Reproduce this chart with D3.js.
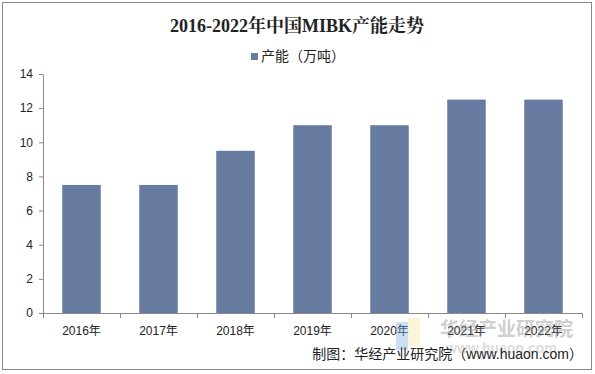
<!DOCTYPE html>
<meta charset="utf-8">
<style>
body { margin: 0; background: #fff; }
text { font-family: "Liberation Sans", Arial, "Noto Sans CJK SC", sans-serif; fill: #222; }
.title { font-family: "Liberation Serif", "Noto Serif CJK SC", "Noto Sans CJK SC", serif; font-size: 18px; font-weight: bold; }
.axis text { font-size: 12px; fill: #222; }
.axis path, .axis line { stroke: #888; }
</style>
<body>
<script src="https://cdnjs.cloudflare.com/ajax/libs/d3/7.8.5/d3.min.js"></script>
<script>

var years = ["2016年", "2017年", "2018年", "2019年", "2020年", "2021年", "2022年"];
var capacity = [7.5, 7.5, 9.5, 11, 11, 12.5, 12.5];
var yTicks = [0, 2, 4, 6, 8, 10, 12, 14];

var width = 595,
    height = 374;

var svg = d3.select("body").append("svg")
    .attr("width", width)
    .attr("height", height);

// frame
svg.append("rect")
    .attr("x", 2.5).attr("y", 2.5)
    .attr("width", 589).attr("height", 367)
    .attr("fill", "#fff")
    .attr("stroke", "#8a8a8a");

svg.append("text")
    .attr("class", "title")
    .attr("x", 297).attr("y", 32)
    .attr("text-anchor", "middle")
    .text("2016-2022年中国MIBK产能走势");

// legend
var legend = svg.append("g").attr("transform", "translate(251,61)");
legend.append("rect")
    .attr("x", 0).attr("y", -8)
    .attr("width", 7).attr("height", 7)
    .attr("fill", "#677ba1");
legend.append("text")
    .attr("x", 10).attr("y", 0)
    .style("font-size", "14px")
    .text("产能（万吨）");

var x = d3.scaleBand()
    .domain(years)
    .range([43, 582])
    .paddingInner(0.5)
    .paddingOuter(0.25);

var y = d3.scaleLinear()
    .domain([0, 14])
    .range([313, 74]);

var g = svg.append("g");

g.selectAll("rect.bar")
    .data(capacity)
  .enter().append("rect")
    .attr("class", "bar")
    .attr("x", function(d, i) { return x(years[i]); })
    .attr("width", x.bandwidth())
    .attr("y", function(d) { return y(d); })
    .attr("height", function(d) { return y(0) - y(d); })
    .attr("fill", "#677ba1");

var yAxis = g.append("g")
    .attr("class", "axis")
    .attr("transform", "translate(43,0)")
    .call(d3.axisLeft(y).tickValues(yTicks).tickSize(4).tickPadding(6).tickSizeOuter(0));

var xTickPos = d3.range(years.length + 1).map(function(i) { return 43 + i * x.step(); });

var xAxis = g.append("g").attr("class", "axis");
xAxis.append("line")
    .attr("x1", 43).attr("x2", 582)
    .attr("y1", 313.5).attr("y2", 313.5);
xAxis.selectAll("line.tick")
    .data(xTickPos)
  .enter().append("line")
    .attr("class", "tick")
    .attr("x1", function(d) { return Math.round(d) + 0.5; })
    .attr("x2", function(d) { return Math.round(d) + 0.5; })
    .attr("y1", 313).attr("y2", 318);
xAxis.selectAll("text")
    .data(years)
  .enter().append("text")
    .attr("x", function(d) { return x(d) + x.bandwidth() / 2; })
    .attr("y", 335)
    .attr("text-anchor", "middle")
    .text(function(d) { return d; });

// watermark
var wm = svg.append("g").attr("opacity", 0.4);
wm.append("rect").attr("x", 396).attr("y", 322).attr("width", 12).attr("height", 28).attr("fill", "#7fb2e6");
wm.append("rect").attr("x", 408).attr("y", 318).attr("width", 12).attr("height", 28).attr("fill", "#f3e4a0");
wm.append("text").attr("x", 440).attr("y", 336)
    .style("font-size", "19px").style("font-weight", "bold").style("fill", "#888")
    .text("华经产业研究院");
wm.append("text").attr("x", 446).attr("y", 353)
    .style("font-size", "14px").style("font-weight", "bold").style("fill", "#aaa")
    .text("www.huaon.com");

svg.append("text")
    .attr("x", 583).attr("y", 359)
    .attr("text-anchor", "end")
    .style("font-size", "14px")
    .text("制图：华经产业研究院（www.huaon.com）");

</script>
